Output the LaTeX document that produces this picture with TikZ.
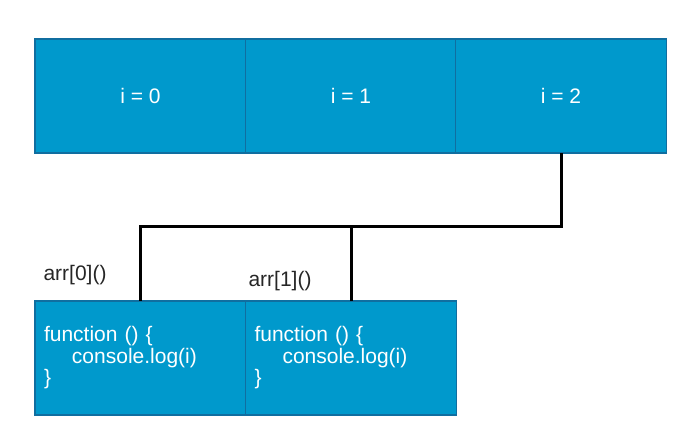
\documentclass[tikz,border=0pt]{standalone}
\usepackage{fontspec}
\setmainfont{Liberation Sans}
\definecolor{cellfill}{RGB}{0,153,204}
\definecolor{celledge}{RGB}{16,110,160}
\begin{document}
\begin{tikzpicture}[x=1pt,y=-1pt,
  cell/.style={draw=celledge, line width=1.6pt, fill=cellfill, text=white,
    minimum width=211pt, minimum height=114pt, inner sep=0pt, outer sep=0pt,
    font=\fontsize{21pt}{21.5pt}\selectfont},
  codecell/.style={cell, text width=193pt, inner xsep=9pt, align=left},
  wire/.style={line width=3pt, black},
  lbl/.style={font=\fontsize{21pt}{21pt}\selectfont, text=black!85, inner sep=0pt}]
  \useasboundingbox (0,0) rectangle (683,436);

  % loop iterations
  \node[cell] (t0) at (140.5,96) {i = 0};
  \node[cell] (t1) at (351,96) {i = 1};
  \node[cell] (t2) at (561,96) {i = 2};

  % closures
  \node[codecell] (f0) at (140.5,358) {\raisebox{-2pt}{function () \{}\\\hspace*{28pt}\raisebox{-2pt}{console.log(i)}\\\raisebox{-2pt}{\}}};
  \node[codecell] (f1) at (351,358) {\raisebox{-2pt}{function () \{}\\\hspace*{28pt}\raisebox{-2pt}{console.log(i)}\\\raisebox{-2pt}{\}}};

  % calls
  \node[lbl] (c0) at (75,275) {arr[0]()};
  \node[lbl] (c1) at (280,281) {arr[1]()};

  % shared binding
  \coordinate (j) at (351,226);
  \draw[wire] (t2.south) -- (t2.south |- j) -| (f0.north);
  \draw[wire] (f1.north) -- (f1.north |- j);
\end{tikzpicture}
\end{document}
